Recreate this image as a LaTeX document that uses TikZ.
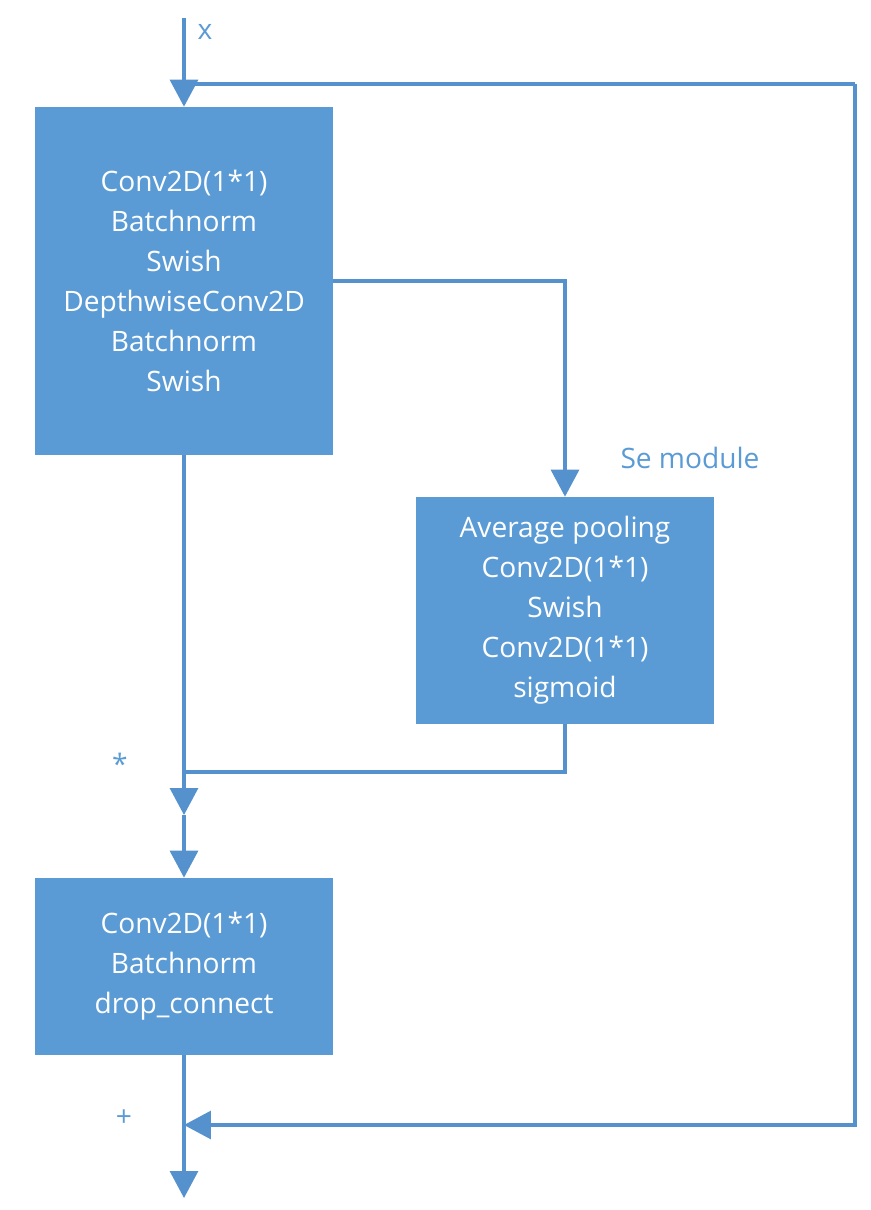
\documentclass[tikz,border=0pt]{standalone}
\usepackage{fontspec}
\setmainfont{Open Sans}
\definecolor{OfficeBlue}{RGB}{91,155,213}
\definecolor{LineBlue} {RGB}{84,145,205}
\usetikzlibrary{arrows.meta,positioning,calc}

\begin{document}
\begin{tikzpicture}[x=0.02cm,y=-0.02cm,
  box/.style={fill=OfficeBlue,text=white,minimum width=5.96cm,
              align=center,font=\fontsize{16}{22.8}\selectfont},
  arr/.style={-{Triangle[width=0.56cm,length=0.54cm]},LineBlue,line width=1.8pt},
  wire/.style={LineBlue,line width=1.8pt},
  lbl/.style={text=OfficeBlue,font=\fontsize{16}{20}\selectfont}]
  \useasboundingbox (0,0) rectangle (870,1210);
  % blocks
  \node[box,minimum height=6.96cm](B1) at (184,281)
       {Conv2D(1*1)\\Batchnorm\\Swish\\DepthwiseConv2D\\Batchnorm\\Swish};
  \node[box,minimum height=4.54cm](SE) at (565,610.5)
       {Average pooling\\Conv2D(1*1)\\Swish\\Conv2D(1*1)\\sigmoid};
  \node[box,minimum height=3.54cm](B3) at (184,966.5)
       {Conv2D(1*1)\\Batchnorm\\drop\_connect};
  % junctions
  \coordinate (in)  at (184,18);
  \coordinate (top) at (184,84);
  \coordinate (fb)  at (855,84);
  \coordinate (mul) at (184,772);
  \coordinate (mid) at (184,815);
  \coordinate (add) at (184,1125);
  \coordinate (out) at (184,1198);
  % connectors
  \draw[arr](in)--(B1.north);
  \draw[wire](top)--(fb);
  \draw[arr](fb)|-(add);
  \draw[arr](B1.east)-|(SE.north);
  \draw[wire](SE.south)|-(mul);
  \draw[arr](B1.south)--(mid);
  \draw[arr](mid)--(B3.north);
  \draw[arr](B3.south)--(out);
  % labels
  \node[lbl](lx) at (205,32){x};
  \node[lbl](lse) at (690,458){Se module};
  \node[lbl](lmul) at (120,764){*};
  \node[lbl](ladd) at (124,1118){+};
\end{tikzpicture}
\end{document}
